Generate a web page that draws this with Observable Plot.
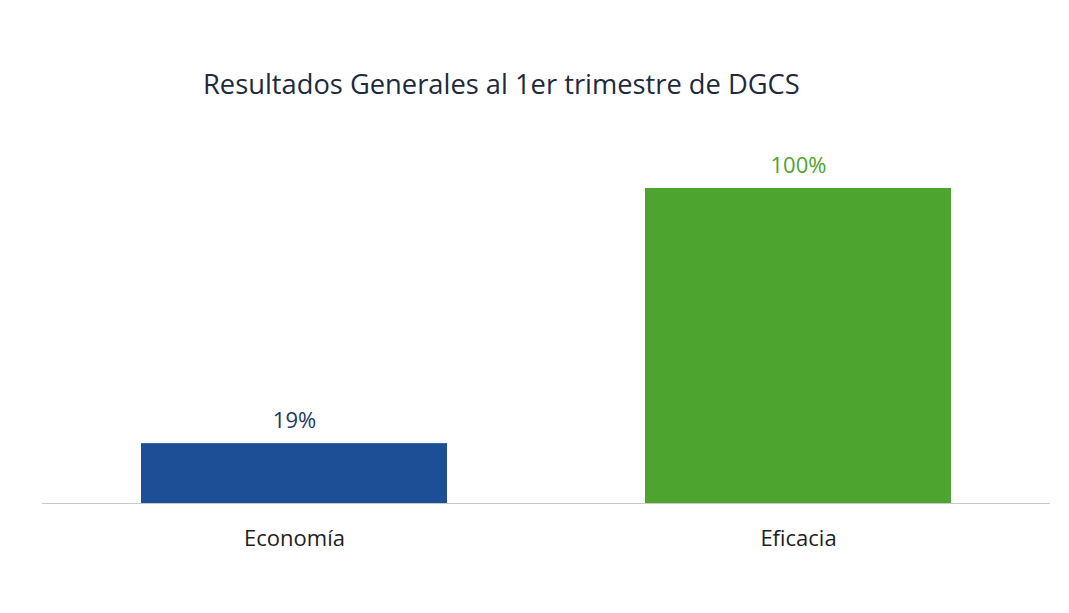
<!DOCTYPE html>
<html>
<head>
<meta charset="utf-8">
<script src="https://cdn.jsdelivr.net/npm/d3@7"></script>
<script src="https://cdn.jsdelivr.net/npm/@observablehq/plot@0.6"></script>
<style>
  html, body { margin: 0; padding: 0; background: #ffffff; }
  #wrap { width: 1069px; height: 613px; position: relative; overflow: hidden; }
  #title {
    position: absolute; left: 203px; top: 65px;
    font-family: "Open Sans", sans-serif; font-weight: 400;
    font-size: 27.3px; color: #1f2a3c; white-space: nowrap; letter-spacing: 0px;
  }
  #chart { position: absolute; left: 0; top: 130px; }
</style>
</head>
<body>
<div id="wrap">
  <div id="title">Resultados Generales al 1er trimestre de DGCS</div>
  <div id="chart"></div>
</div>
<script>
const categories = ["Economía", "Eficacia"];
const values = [19, 100];
const labels = ["19%", "100%"];
const barColors = ["#1d4f97", "#4da42e"];
const labelColors = ["#1c3866", "#4da42e"];

const data = categories.map((c, i) => ({category: c, value: values[i], label: labels[i], fill: barColors[i], lc: labelColors[i]}));

const chart = Plot.plot({
  width: 1069,
  height: 483,
  marginLeft: 42,
  marginRight: 19,
  marginTop: 58,
  marginBottom: 110,
  style: {fontFamily: "'Open Sans', sans-serif", background: "transparent"},
  x: {domain: categories, padding: 0, label: null},
  y: {domain: [0, 100], axis: null},
  marks: [
    Plot.barY(data, {x: "category", y: "value", fill: d => d.fill, insetLeft: 99, insetRight: 99}),
    Plot.ruleY([0], {stroke: "#c8c8c8", strokeWidth: 1}),
    Plot.text(data, {x: "category", y: "value", text: "label", dy: -23, fill: d => d.lc, fontSize: 22}),
    Plot.axisX({tickSize: 0, tickPadding: 27, fontSize: 22, color: "#1e1e1e", label: null})
  ]
});
document.getElementById("chart").appendChild(chart);
</script>
</body>
</html>
